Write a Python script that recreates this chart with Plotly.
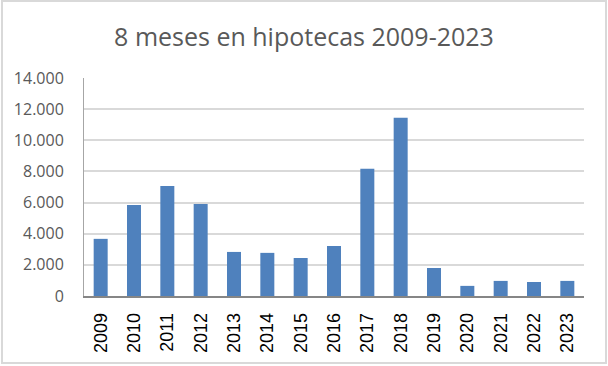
import plotly.graph_objects as go

years = ["2009", "2010", "2011", "2012", "2013", "2014", "2015", "2016",
         "2017", "2018", "2019", "2020", "2021", "2022", "2023"]
values = [3670, 5850, 7070, 5910, 2830, 2770, 2440, 3210,
          8170, 11450, 1800, 650, 970, 900, 970]
y_ticks = [0, 2000, 4000, 6000, 8000, 10000, 12000, 14000]

W, H = 608, 366
L, R, T, B = 84, 24, 78, 70
pw, ph = W - L - R, H - T - B

fig = go.Figure(go.Bar(x=years, y=values, marker_color="#4f81bd",
                       marker_line_width=0))

def px_x(p):
    return (p - L) / pw

def px_y(p):
    return (H - B - p) / ph

fig.update_layout(
    width=W, height=H,
    margin=dict(l=L, r=R, t=T, b=B, autoexpand=False),
    paper_bgcolor="white", plot_bgcolor="white",
    separators=",.",
    bargap=0.58,
    showlegend=False,
    title=dict(text="8 meses en hipotecas 2009-2023", x=0.5, xanchor="center",
               xref="container",
               y=1 - 37 / H, yanchor="middle", automargin=False,
               font=dict(family="Open Sans", size=25, color="#595959")),
    font=dict(family="Liberation Sans"),
    xaxis=dict(type="category", tickangle=-90, showgrid=False,
               showline=True, linecolor="#868686", linewidth=1.5,
               ticks="", automargin=False, ticklabelstandoff=8,
               tickfont=dict(size=18, color="#000000")),
    yaxis=dict(range=[0, 14000], tickvals=y_ticks, tickformat=",d",
               showgrid=True, gridcolor="#d9d9d9", gridwidth=1.5,
               showline=True, linecolor="#a6a6a6", linewidth=1,
               zeroline=False, ticks="", automargin=False,
               ticklabelstandoff=16,
               tickfont=dict(family="Open Sans", size=16, color="#595959")),
    shapes=[dict(type="rect", xref="paper", yref="paper",
                 x0=px_x(2), x1=px_x(606), y0=px_y(363), y1=px_y(1),
                 line=dict(color="#d9d9d9", width=2), layer="below")],
)

fig.write_html("out.html",
               config={"displayModeBar": False},
               post_script="document.body.style.margin='0';"
                           "document.body.style.overflow='hidden';")
